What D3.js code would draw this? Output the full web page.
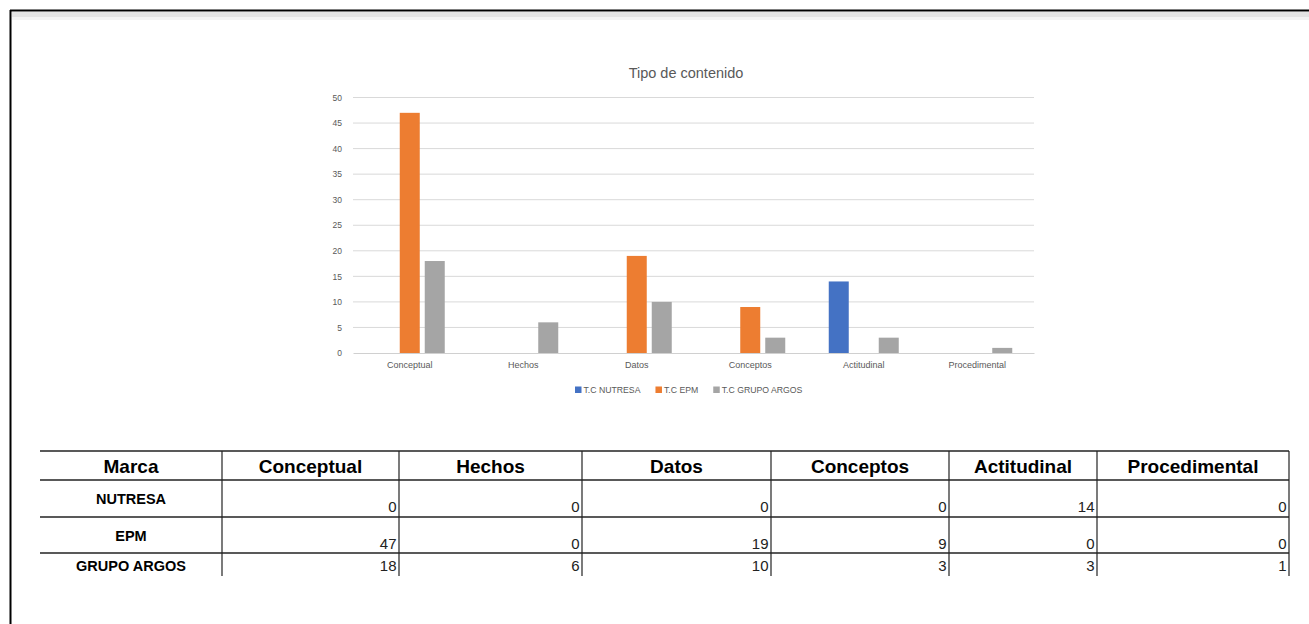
<!DOCTYPE html>
<html>
<head>
<meta charset="utf-8">
<script src="https://cdn.jsdelivr.net/npm/d3@7"></script>
<style>
  body { margin: 0; background: #fff; }
  svg { display: block; font-family: "Liberation Sans", Arial, sans-serif; }
</style>
</head>
<body>
<div id="container"></div>
<script>
/* DATA */
const categories = ["Conceptual", "Hechos", "Datos", "Conceptos", "Actitudinal", "Procedimental"];
const seriesNames = ["T.C NUTRESA", "T.C EPM", "T.C GRUPO ARGOS"];
const brands = ["NUTRESA", "EPM", "GRUPO ARGOS"];
const nutresa = [0, 0, 0, 0, 14, 0];
const epm = [47, 0, 19, 9, 0, 0];
const argos = [18, 6, 10, 3, 3, 1];
const yTicks = [0, 5, 10, 15, 20, 25, 30, 35, 40, 45, 50];
const colors = ["#4472c4", "#ed7d31", "#a5a5a5"];

const seriesValues = [nutresa, epm, argos];

/* LAYOUT */
const width = 1309, height = 624;
const plot = { left: 353, right: 1034, top: 97.5, bottom: 353 };
// table column edges and row edges
const colEdges = [40, 222, 399, 582, 771, 949, 1097, 1289];
const rowEdges = [451, 480, 517, 553, 576];

const svg = d3.select("#container").append("svg")
  .attr("width", width)
  .attr("height", height);

// sheet frame with shadow
svg.append("rect").attr("x", 12).attr("y", 12).attr("width", width).attr("height", 5).attr("fill", "#e3e3e3");
svg.append("rect").attr("x", 12).attr("y", 17).attr("width", width).attr("height", 3).attr("fill", "#f3f3f3");
svg.append("line").attr("x1", 10).attr("x2", width).attr("y1", 10.5).attr("y2", 10.5)
  .attr("stroke", "#000").attr("stroke-width", 2);
svg.append("line").attr("x1", 10.5).attr("x2", 10.5).attr("y1", 10).attr("y2", height)
  .attr("stroke", "#000").attr("stroke-width", 2);

/* SCALES */
const x0 = d3.scaleBand().domain(categories).range([plot.left, plot.right]);
const groupW = 70;
const x1 = d3.scaleBand().domain(seriesNames)
  .range([(x0.bandwidth() - groupW) / 2, (x0.bandwidth() + groupW) / 2])
  .paddingInner(0.2);
const y = d3.scaleLinear().domain([0, 50]).range([plot.bottom, plot.top]);

// gridlines
svg.append("g")
  .selectAll("line")
  .data(yTicks.slice(1))
  .join("line")
  .attr("x1", plot.left).attr("x2", plot.right)
  .attr("y1", d => y(d)).attr("y2", d => y(d))
  .attr("stroke", "#d9d9d9").attr("stroke-width", 1);

// y axis labels
const yAxis = d3.axisLeft(y).tickValues(yTicks).tickSize(0).tickPadding(11);
const yAxisGroup = svg.append("g")
  .attr("transform", `translate(${plot.left}, 0)`)
  .call(yAxis);
yAxisGroup.select(".domain").remove();
yAxisGroup.selectAll("text")
  .attr("fill", "#595959")
  .style("font-size", "8.5px")
  .style("font-family", "Liberation Sans, Arial, sans-serif");

// bars
const barData = [];
categories.forEach((c, i) => {
  seriesNames.forEach((s, j) => {
    barData.push({ cat: c, series: s, value: seriesValues[j][i], color: colors[j] });
  });
});
svg.append("g")
  .selectAll("rect")
  .data(barData.filter(d => d.value > 0))
  .join("rect")
  .attr("x", d => x0(d.cat) + x1(d.series))
  .attr("y", d => y(d.value))
  .attr("width", x1.bandwidth())
  .attr("height", d => y(0) - y(d.value))
  .attr("fill", d => d.color);

// x axis
const xAxis = d3.axisBottom(x0).tickSize(0).tickPadding(9);
const xAxisGroup = svg.append("g")
  .attr("transform", `translate(0, ${plot.bottom})`)
  .call(xAxis);
xAxisGroup.select(".domain").attr("stroke", "#d0d0d0");
xAxisGroup.selectAll("text")
  .attr("fill", "#595959")
  .style("font-size", "9px")
  .style("font-family", "Liberation Sans, Arial, sans-serif");

// title
svg.append("text")
  .attr("x", 686)
  .attr("y", 78)
  .attr("text-anchor", "middle")
  .attr("fill", "#595959")
  .style("font-size", "14.5px")
  .text("Tipo de contenido");

// legend
const legend = svg.append("g").attr("transform", "translate(575, 390)");
let lx = 0;
seriesNames.forEach((s, i) => {
  const g = legend.append("g").attr("transform", `translate(${lx}, 0)`);
  g.append("rect").attr("x", 0).attr("y", -3.5).attr("width", 6.5).attr("height", 6.5).attr("fill", colors[i]);
  const t = g.append("text")
    .attr("x", 8.5).attr("y", 3)
    .attr("fill", "#595959")
    .style("font-size", "8.7px")
    .text(s);
  lx += 8.5 + t.node().getComputedTextLength() + 15;
});

/* TABLE */
const table = svg.append("g");
const header = ["Marca", ...categories];

// horizontal rules
table.selectAll(".hline")
  .data(rowEdges.slice(0, 4))
  .join("line")
  .attr("class", "hline")
  .attr("x1", colEdges[0]).attr("x2", colEdges[colEdges.length - 1])
  .attr("y1", d => d).attr("y2", d => d)
  .attr("stroke", "#222").attr("stroke-width", 1.5);

// vertical rules
table.selectAll(".vline")
  .data(colEdges.slice(1))
  .join("line")
  .attr("class", "vline")
  .attr("x1", d => d).attr("x2", d => d)
  .attr("y1", rowEdges[0]).attr("y2", rowEdges[4])
  .attr("stroke", "#222").attr("stroke-width", 1.2);

// header cells
table.selectAll(".head")
  .data(header)
  .join("text")
  .attr("class", "head")
  .attr("x", (d, i) => (colEdges[i] + colEdges[i + 1]) / 2)
  .attr("y", 473)
  .attr("text-anchor", "middle")
  .attr("fill", "#000")
  .style("font-size", "19px")
  .style("font-weight", "bold")
  .text(d => d);

// brand labels
const labelY = [504, 541, 571];
const numY = [512, 549, 571];
table.selectAll(".brand")
  .data(brands)
  .join("text")
  .attr("class", "brand")
  .attr("x", (colEdges[0] + colEdges[1]) / 2)
  .attr("y", (d, i) => labelY[i])
  .attr("text-anchor", "middle")
  .attr("fill", "#000")
  .style("font-size", "14.5px")
  .style("font-weight", "bold")
  .text(d => d);

// values
const cells = [];
seriesValues.forEach((vals, r) => {
  vals.forEach((v, c) => cells.push({ r, c, v }));
});
table.selectAll(".num")
  .data(cells)
  .join("text")
  .attr("class", "num")
  .attr("x", d => colEdges[d.c + 2] - 2.5)
  .attr("y", d => numY[d.r])
  .attr("text-anchor", "end")
  .attr("fill", "#222")
  .style("font-size", "15px")
  .text(d => d.v);
</script>
</body>
</html>
